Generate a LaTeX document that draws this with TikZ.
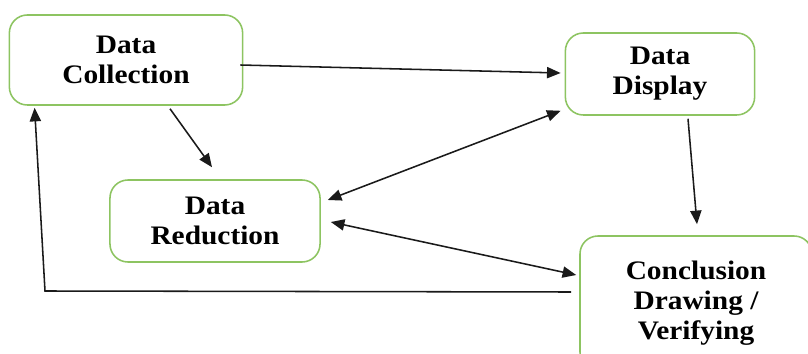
\documentclass[tikz,border=0pt]{standalone}
\usepackage{fontspec}
\setmainfont{Liberation Serif}[FakeStretch=1.1]
\usetikzlibrary{arrows.meta, calc}
\definecolor{boxgreen}{HTML}{8DC461}
\definecolor{inkline}{HTML}{1A1A1A}
\newcommand{\stagebox}[5]{%
  \node[draw=boxgreen, line width=1.1pt, rounded corners=0.45cm, fill=white,
        minimum width=#3, minimum height=#4, align=center,
        text=black, font=\fontsize{19pt}{21.3pt}\selectfont\bfseries] (#1) at (#2) {#5};}

\begin{document}
\begin{tikzpicture}[x=0.025cm, y=-0.025cm,
    flow/.style={-{Triangle[length=0.34cm, width=0.28cm]}, inkline, line width=1.1pt},
    twoway/.style={{Triangle[length=0.34cm, width=0.28cm]}-{Triangle[length=0.34cm, width=0.28cm]}, inkline, line width=1.1pt}]
      \clip (0,0) rectangle (808,354);
      \fill[white] (0,0) rectangle (808,354);
      \stagebox{coll}{126,60}{5.83cm}{2.25cm}{Data\\Collection}
      \stagebox{disp}{660,74}{4.73cm}{2.05cm}{Data\\Display}
      \stagebox{red}{215,221}{5.25cm}{2.05cm}{Data\\Reduction}
      \stagebox{conc}{696,303}{5.8cm}{3.35cm}{Conclusion\\Drawing /\\Verifying}
      \coordinate (turn) at (45,291);
      \draw[flow] ($(coll.east)+(-3,5)$) -- ($(disp.west)+(-4,-1)$);
      \draw[flow] ($(coll.south)+(44,3)$) -- ($(red.north)+(-3,-12)$);
      \draw[twoway] ($(red.east)+(7,-21)$) -- ($(disp.south west)+(-4,-5)$);
      \draw[twoway] ($(red.east)+(10,1)$) -- ($(conc.west)+(-3,-28)$);
      \draw[flow] ($(disp.south)+(28,3)$) -- ($(conc.north)+(1,-11)$);
      \draw[flow] ($(conc.west)+(-8,-11)$) -- (turn) -- ($(coll.south west)+(26,2)$);
    \end{tikzpicture}
\end{document}
